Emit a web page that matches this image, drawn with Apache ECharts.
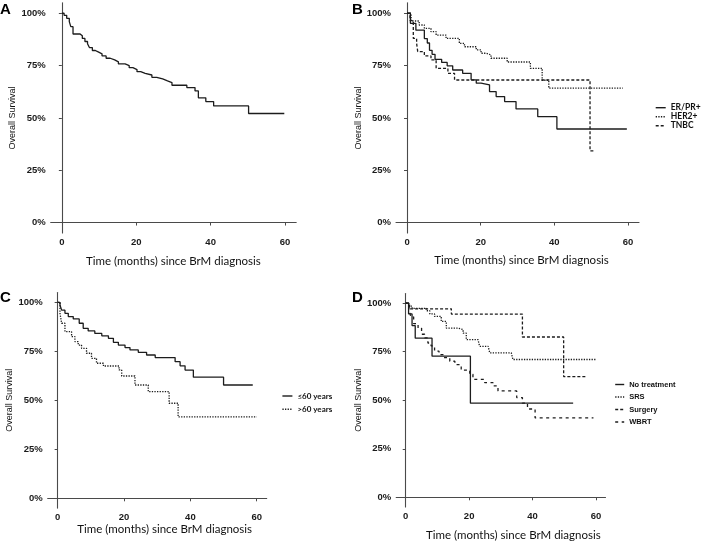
<!DOCTYPE html>
<html>
<head>
<meta charset="utf-8">
<script src="https://cdn.jsdelivr.net/npm/echarts@6/dist/echarts.min.js"></script>
<style>html,body{margin:0;padding:0;background:#fff}#c{width:709px;height:542px}</style>
</head>
<body>
<div id="c"></div>
<script>
// ---- tick labels ----
const xTicks = [0, 20, 40, 60];
const yTicks = [0, 25, 50, 75, 100];
const xTitle = 'Time (months) since BrM diagnosis';
const yTitle = 'Overall Survival';
const panelLetters = ['A', 'B', 'C', 'D'];

// ---- Panel A: all patients ----
const allTime = [0, 0.6, 1.3, 2.0, 2.4, 3.0, 4.9, 5.5, 6.2, 6.9, 7.4, 8.2, 9.0, 9.9, 10.8, 11.9, 13.0, 14.2, 15.2, 17.0, 18.1, 19.1, 20.2, 21.2, 22.4, 24.2, 25.5, 27.1, 28.4, 29.6, 33.6, 35.8, 36.7, 38.7, 40.8, 50.2, 59.8];
const allSurv = [100, 99, 97.6, 96, 93.6, 90.1, 89.2, 88, 86.5, 85.4, 83.6, 82.2, 81.4, 80.6, 79.6, 78.5, 77.7, 76.8, 75.8, 75, 74, 73.1, 72.1, 71.3, 70.5, 69.4, 68.6, 67.7, 66.9, 65.6, 64.5, 62.9, 59.6, 57.8, 55.7, 52.1, 52.1];

// ---- Panel B: subtype ----
const subtypeNames = ['ER/PR+', 'HER2+', 'TNBC'];
const erTime = [0, 0.9, 2.4, 4.7, 5.5, 6.1, 6.8, 7.6, 9.4, 10.9, 12.4, 15.1, 17.4, 18.8, 20.1, 22.4, 24.2, 26.5, 29.6, 35.5, 40.7, 59.7];
const erSurv = [100, 95.2, 91.9, 87.9, 85.8, 82.3, 80.4, 78, 76.5, 74.9, 72.9, 71.3, 68.2, 66.6, 65.8, 62.6, 60.2, 57.8, 54.3, 50.6, 44.7, 44.7];
const her2Time = [0, 1.1, 3.3, 4.7, 6.5, 7.9, 10.6, 14.2, 15.6, 18.8, 20.1, 21.5, 22.8, 27.2, 33.5, 36.7, 38.5, 58.6];
const her2Surv = [100, 96.3, 94.4, 92.8, 91.2, 89.6, 88.0, 85.6, 84.0, 82.5, 80.9, 80.1, 78.5, 76.7, 73.7, 68.0, 64.2, 64.2];
const tnbcTime = [0, 0.8, 1.7, 2.6, 2.9, 4.7, 6.5, 7.9, 11.1, 12.9, 49.7, 51.0];
const tnbcSurv = [100, 96.5, 88, 85.6, 81.7, 79.6, 77.7, 73.7, 71.3, 68.1, 34.2, 34.2];

// ---- Panel C: age ----
const ageNames = ['≤60 years', '>60 years'];
const youngTime = [0, 0.7, 1.2, 2.2, 3.2, 4.7, 6.5, 7.7, 9.2, 11.2, 13.3, 15.3, 16.8, 18.3, 20.3, 21.8, 24.3, 26.8, 29.4, 35.4, 36.9, 38.4, 40.9, 50.0, 58.8];
const youngSurv = [100, 98.6, 96, 94.4, 92.7, 91.5, 89.3, 86.7, 85.4, 84.1, 82.9, 81.6, 79.6, 78.2, 76.9, 75.7, 74.5, 73.1, 71.8, 69.7, 67.6, 65.4, 61.8, 57.8, 57.8];
const oldTime = [0, 0.7, 1.2, 2.2, 4.2, 5.2, 6.2, 7.2, 8.7, 10.2, 11.7, 13.8, 18.5, 19.3, 23.3, 27.3, 33.6, 36.3, 60];
const oldSurv = [100, 94.4, 89.3, 85, 82.5, 79.9, 78.2, 76.5, 74, 71.4, 68.9, 67.5, 65.5, 62.4, 57.8, 54.4, 48.5, 41.5, 41.5];

// ---- Panel D: treatment ----
const treatNames = ['No treatment', 'SRS', 'Surgery', 'WBRT'];
const noTxTime = [0, 0.9, 2.0, 3.0, 8.3, 20.4, 52.8];
const noTxSurv = [100, 94.5, 88.5, 82, 72.7, 48.5, 48.5];
const srsTime = [0, 1.0, 2.0, 6.6, 7.6, 9.1, 11.2, 12.8, 16.5, 18.1, 19.1, 22.8, 23.3, 26.0, 26.5, 33.3, 33.8, 60];
const srsSurv = [100, 98.5, 97.3, 96.1, 94.5, 93.2, 90.6, 87.2, 86.4, 84.6, 81.2, 80.4, 77.8, 77.0, 74.4, 73.6, 71.0, 71.0];
const surgeryTime = [0, 1.2, 14.4, 36.8, 49.8, 56.9];
const surgerySurv = [100, 97.1, 94.4, 82.6, 62.2, 62.2];
const wbrtTime = [0, 1.0, 1.6, 2.5, 3.9, 5.0, 6.0, 7.0, 8.0, 9.1, 10.5, 12.0, 13.9, 15.5, 17.5, 20.2, 21.2, 24.9, 27.5, 29.1, 35.0, 36.8, 38.4, 40.8, 59.2];
const wbrtSurv = [100, 97, 93, 89.5, 87.2, 84, 82.1, 79.5, 78.0, 75.3, 73.5, 72, 70.1, 68.4, 65.5, 63.4, 60.8, 59.1, 57.4, 54.8, 51.4, 48.5, 45.5, 40.9, 40.9];

// ---------------------------------------------------------
const INK = '#1c1c1c';
const AX = '#4a4a4a';
const tickFont = {fontFamily: 'Liberation Sans, Arial', fontSize: 9.5, fontWeight: 'bold', color: '#1a1a1a'};
const titleFont = {fontFamily: 'Lato', fontSize: 11.5, color: '#111'};

const grids = [
  {left: 50.7, top: 2.8, width: 245.5, height: 230.2},
  {left: 396, top: 2.8, width: 243, height: 230.2},
  {left: 47.7, top: 292.5, width: 219, height: 215.6},
  {left: 396.2, top: 293.5, width: 209.3, height: 215.3}
];
const xGaps = [22, 21, 15, 22];
const yGaps = [32, 31.5, 28.5, 29.5];
const xShift = [0, 8, 15, 25];

function xa(i) {
  return {
    type: 'value', gridIndex: i, min: -3, max: 63,
    splitLine: {show: false},
    axisLine: {lineStyle: {color: AX, width: 1.1}},
    axisTick: {length: 3, lineStyle: {color: AX}, customValues: xTicks},
    axisLabel: Object.assign({margin: 4, customValues: xTicks}, tickFont),
    name: xTitle, nameLocation: 'middle', nameGap: xGaps[i],
    nameTextStyle: Object.assign({padding: [0, 0, 0, xShift[i]]}, titleFont)
  };
}
function ya(i) {
  return {
    type: 'value', gridIndex: i, min: -5, max: 105,
    splitLine: {show: false},
    axisLine: {lineStyle: {color: AX, width: 1.1}},
    axisTick: {length: 3, lineStyle: {color: AX}, customValues: yTicks},
    axisLabel: Object.assign({margin: 5, customValues: yTicks, formatter: v => v + '%'}, tickFont),
    name: yTitle, nameLocation: 'middle', nameGap: yGaps[i],
    nameTextStyle: {fontFamily: 'Liberation Sans, Arial', fontSize: 9, color: '#111'}
  };
}
function pairs(t, s) { return t.map((v, k) => [v, s[k]]); }
function km(name, t, s, idx, type) {
  return {
    name: name, type: 'line', step: 'end', symbol: 'none', showSymbol: false,
    xAxisIndex: idx, yAxisIndex: idx, data: pairs(t, s),
    lineStyle: {color: INK, width: 1.3, type: type},
    itemStyle: {color: INK}
  };
}
const DOT = [1.3, 1.3];
const DASH = [3, 2];
const DASH2 = [3, 3.5];

const letterPos = [[0, 2], [352, 2], [0, 290], [352, 290]];
const hideSym = {opacity: 0, color: 'rgba(0,0,0,0)', borderWidth: 0};

const option = {
  animation: false,
  backgroundColor: '#fff',
  title: panelLetters.map((L, i) => ({
    text: L, left: letterPos[i][0], top: letterPos[i][1], padding: 0,
    textStyle: {fontFamily: 'Liberation Sans, Arial', fontSize: 15, fontWeight: 'bold', color: '#000'}
  })),
  grid: grids,
  xAxis: [0, 1, 2, 3].map(xa),
  yAxis: [0, 1, 2, 3].map(ya),
  legend: [
    {data: subtypeNames, orient: 'vertical', left: 655, top: 103.2, itemWidth: 10, itemHeight: 7, itemGap: 0, padding: 0,
      itemStyle: hideSym, lineStyle: {width: 1.4},
      textStyle: {fontFamily: 'Lato', fontWeight: 'bold', fontSize: 8.5, color: '#111', lineHeight: 7}},
    {data: ageNames, orient: 'vertical', left: 281.7, top: 391, itemWidth: 10, itemHeight: 7, itemGap: 3.3, padding: 0,
      itemStyle: hideSym, lineStyle: {width: 1.4},
      textStyle: {fontFamily: 'Lato', fontWeight: 'bold', fontSize: 8, color: '#111', lineHeight: 10}},
    {data: treatNames, orient: 'vertical', left: 614.5, top: 379.5, itemWidth: 9, itemHeight: 7, itemGap: 2.5, padding: 0,
      itemStyle: hideSym, lineStyle: {width: 1.4},
      textStyle: {fontFamily: 'Liberation Sans, Arial', fontWeight: 'bold', fontSize: 7.5, color: '#111', lineHeight: 10}}
  ],
  series: [
    km('All', allTime, allSurv, 0, 'solid'),
    km(subtypeNames[0], erTime, erSurv, 1, 'solid'),
    km(subtypeNames[1], her2Time, her2Surv, 1, DOT),
    km(subtypeNames[2], tnbcTime, tnbcSurv, 1, DASH),
    km(ageNames[0], youngTime, youngSurv, 2, 'solid'),
    km(ageNames[1], oldTime, oldSurv, 2, DOT),
    km(treatNames[0], noTxTime, noTxSurv, 3, 'solid'),
    km(treatNames[1], srsTime, srsSurv, 3, DOT),
    km(treatNames[2], surgeryTime, surgerySurv, 3, DASH),
    km(treatNames[3], wbrtTime, wbrtSurv, 3, DASH2)
  ]
};
const chart = echarts.init(document.getElementById('c'), null, {renderer: 'canvas'});
chart.setOption(option);
</script>
</body>
</html>
